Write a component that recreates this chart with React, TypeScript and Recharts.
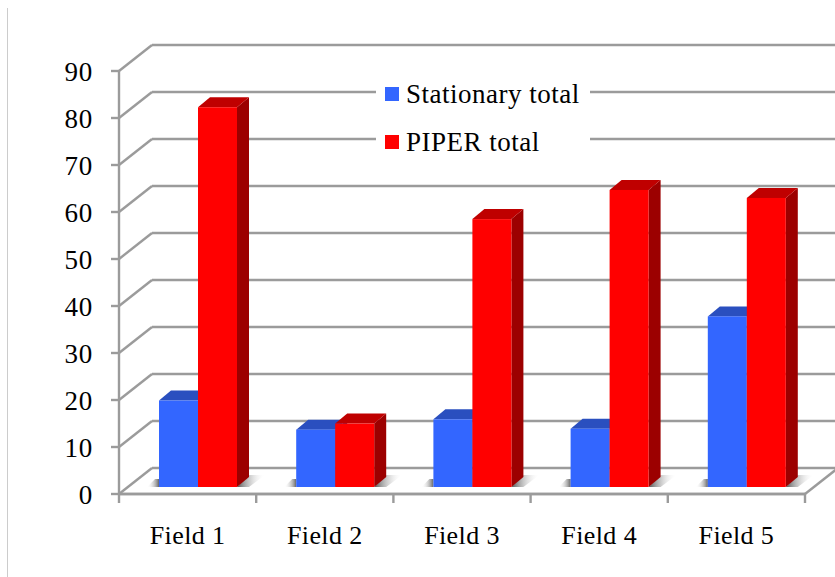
import React from 'react';
import { BarChart, Bar, XAxis, YAxis, CartesianGrid, Legend } from 'recharts';

const fields = ['Field 1', 'Field 2', 'Field 3', 'Field 4', 'Field 5'];
const stationaryTotal = [18.4, 12.2, 14.4, 12.4, 36.3];
const piperTotal = [80.8, 13.5, 57, 63.2, 61.5];
const valueTicks = [0, 10, 20, 30, 40, 50, 60, 70, 80, 90];
const seriesNames = ['Stationary total', 'PIPER total'];

const data = fields.map((field, i) => ({
  field,
  stationary: stationaryTotal[i],
  piper: piperTotal[i],
}));

const WIDTH = 835;
const HEIGHT = 577;
const LEFT = 119;
const RIGHT = 30;
const TOP = 71;
const BOTTOM = 83;
const BAND = (WIDTH - LEFT - RIGHT) / fields.length;

// depth of the floor and back wall, and of one bar
const WALL_DX = 33;
const WALL_DY = 26;
const BAR_DX = 12;
const BAR_DY = 10;
// bars stand a little way back from the front edge of the floor
const INSET_X = 10;
const INSET_Y = 7;

const AXIS = '#9b9b9b';
const AXIS_WIDTH = 2.4;
const FONT = '"Liberation Serif", serif';

function WallLine(props: any) {
  const { x1, x2, y1, index } = props;
  const isFloor = y1 >= HEIGHT - BOTTOM - 1;
  return (
    <g key={`wall-${index}`} stroke={AXIS} strokeWidth={AXIS_WIDTH} fill="none">
      <line x1={x1} y1={y1} x2={x1 + WALL_DX} y2={y1 - WALL_DY} />
      <line x1={x1 + WALL_DX} y1={y1 - WALL_DY} x2={WIDTH + 5} y2={y1 - WALL_DY} />
      {isFloor && <line x1={x2} y1={y1} x2={x2 + WALL_DX} y2={y1 - WALL_DY} />}
      {isFloor && <line x1={x1} y1={y1} x2={x2} y2={y1} />}
    </g>
  );
}

function Box3D(props: any) {
  const { x, y, width, height, fill, topFill, sideFill, shadow } = props;
  const l = x + INSET_X;
  const r = l + width;
  const t = y - INSET_Y;
  const b = t + height;
  const shadowShape =
    shadow === 'left'
      ? `${l - 12},${b} ${l},${b} ${l},${b - 8} ${l - 4},${b - 8}`
      : `${r},${b} ${r + 12},${b - 12} ${r + 28},${b - 12} ${r + 12},${b}`;
  return (
    <g>
      <polygon points={shadowShape} fill={`url(#shadow-${shadow})`} />
      <polygon points={`${r},${t} ${r + BAR_DX},${t - BAR_DY} ${r + BAR_DX},${b - BAR_DY} ${r},${b}`} fill={sideFill} />
      <polygon points={`${l},${t} ${l + BAR_DX},${t - BAR_DY} ${r + BAR_DX},${t - BAR_DY} ${r},${t}`} fill={topFill} />
      <rect x={l} y={t} width={width} height={height} fill={fill} />
    </g>
  );
}

function FieldTick(props: any) {
  const { x, y, payload, index } = props;
  const edge = x - BAND / 2;
  return (
    <g>
      <line x1={edge} y1={y} x2={edge} y2={y + 9} stroke={AXIS} strokeWidth={AXIS_WIDTH} />
      {index === fields.length - 1 && (
        <line x1={edge + BAND} y1={y} x2={edge + BAND} y2={y + 9} stroke={AXIS} strokeWidth={AXIS_WIDTH} />
      )}
      <text x={x} y={y + 50} textAnchor="middle" fontFamily={FONT} fontSize={26} letterSpacing={0.4} fill="#000">
        {payload.value}
      </text>
    </g>
  );
}

function LegendBox({ payload }: any) {
  return (
    <div style={styles.legend}>
      {(payload || []).map((item: any) => (
        <div key={item.value} style={styles.legendRow}>
          <span style={{ ...styles.legendMark, background: item.color }} />
          <span>{item.value}</span>
        </div>
      ))}
    </div>
  );
}

export default function App() {
  return (
    <div style={styles.page}>
      <div style={styles.edge} />
      <BarChart
        width={WIDTH}
        height={HEIGHT}
        data={data}
        margin={{ top: TOP, right: RIGHT, bottom: 0, left: 0 }}
        barGap={0}
        barSize={39}
      >
        <defs>
          <linearGradient id="shadow-right" x1="0" y1="0" x2="1" y2="0">
            <stop offset="0" stopColor="#555555" />
            <stop offset="1" stopColor="#ffffff" stopOpacity={0} />
          </linearGradient>
          <linearGradient id="shadow-left" x1="1" y1="0" x2="0" y2="0">
            <stop offset="0" stopColor="#666666" />
            <stop offset="1" stopColor="#ffffff" stopOpacity={0} />
          </linearGradient>
        </defs>
        <CartesianGrid vertical={false} horizontal={WallLine} />
        <XAxis
          dataKey="field"
          interval={0}
          height={BOTTOM}
          axisLine={{ stroke: AXIS, strokeWidth: AXIS_WIDTH }}
          tickLine={false}
          tickSize={0}
          tickMargin={0}
          tick={FieldTick}
        />
        <YAxis
          width={LEFT}
          domain={[0, 90]}
          ticks={valueTicks}
          interval={0}
          axisLine={{ stroke: AXIS, strokeWidth: AXIS_WIDTH }}
          tickLine={{ stroke: AXIS, strokeWidth: AXIS_WIDTH }}
          tickSize={8}
          tickMargin={18}
          tick={{ fontFamily: FONT, fontSize: 27, fill: '#000', letterSpacing: 0.8 }}
        />
        <Legend
          layout="horizontal"
          verticalAlign="middle"
          align="center"
          content={LegendBox}
          itemSorter={(item: any) => seriesNames.indexOf(item.value)}
          wrapperStyle={{ position: 'absolute', left: 376, top: 62, width: 214, height: 104 }}
        />
        <Bar
          dataKey="stationary"
          name={seriesNames[0]}
          fill="#3366ff"
          isAnimationActive={false}
          shape={(p: any) => <Box3D {...p} topFill="#2a4fbf" sideFill="#1f3d99" shadow="left" />}
        />
        <Bar
          dataKey="piper"
          name={seriesNames[1]}
          fill="#ff0000"
          isAnimationActive={false}
          shape={(p: any) => <Box3D {...p} topFill="#bf0000" sideFill="#9c0000" shadow="right" />}
        />
      </BarChart>
    </div>
  );
}

const styles: Record<string, React.CSSProperties> = {
  page: { position: 'absolute', left: 0, top: 0, width: WIDTH, height: HEIGHT, background: 'white', overflow: 'hidden' },
  edge: { position: 'absolute', left: 7, top: 8, width: 1, height: HEIGHT - 8, background: '#cccccc' },
  legend: { background: 'white', width: '100%', height: '100%', paddingLeft: 9, paddingTop: 8, boxSizing: 'border-box', fontFamily: FONT, fontSize: 27, letterSpacing: 0.5, color: '#000' },
  legendRow: { display: 'flex', alignItems: 'center', height: 48, lineHeight: '30px' },
  legendMark: { display: 'inline-block', width: 14, height: 14, marginRight: 7 },
};
